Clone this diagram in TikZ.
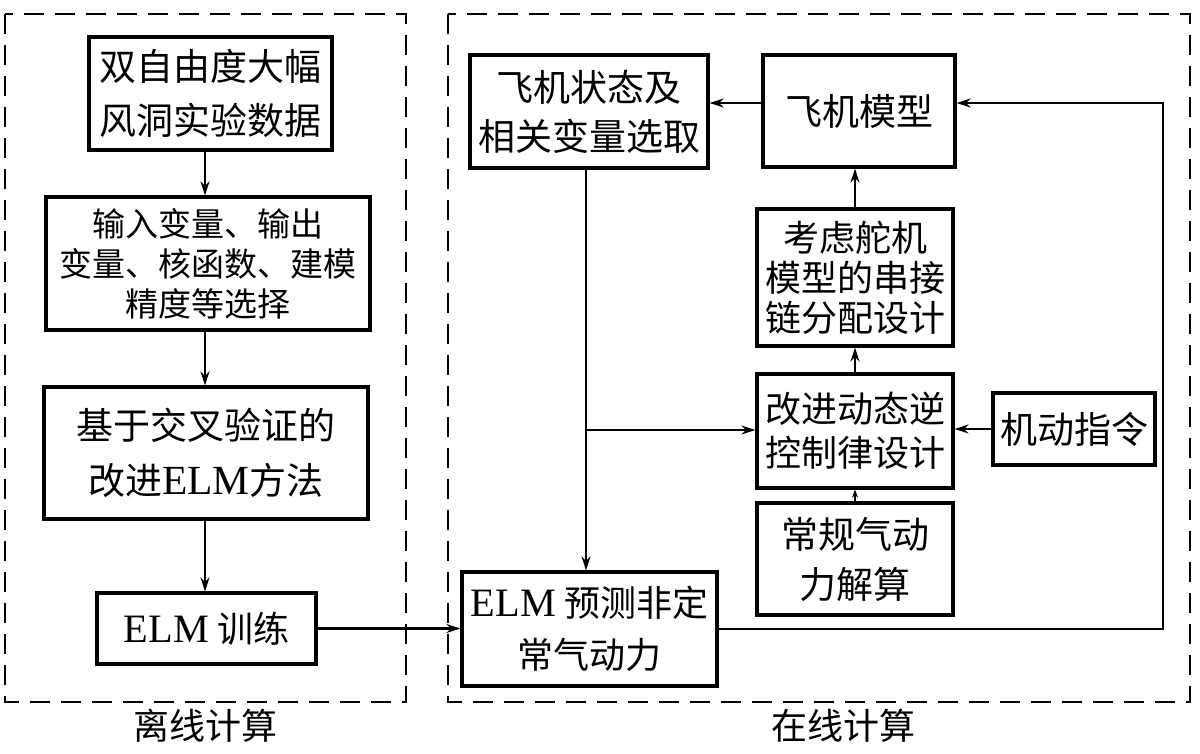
\documentclass[tikz,border=0pt]{standalone}
\usepackage{fontspec}
\setmainfont{Noto Sans CJK SC}
\newfontfamily\lat[Scale=1.12]{Liberation Serif}
\usetikzlibrary{arrows.meta}
\newcommand{\elm}{{\lat ELM}}
\tikzset{
  box/.style={draw, line width=3.2pt, inner sep=0pt, align=center, font=\fontsize{36}{48}\selectfont},
  arr/.style={line width=2.2pt, -{Stealth[length=14pt,width=9pt]}},
  frame/.style={draw, line width=2.6pt, dash pattern=on 20pt off 11pt},
  captxt/.style={font=\fontsize{36}{40}\selectfont},
}
\begin{document}
\begin{tikzpicture}[x=1pt,y=-1pt]
\useasboundingbox[fill=white] (0,0) rectangle (1200,753);
% dashed frames
\draw[frame] (5,14) rectangle (406,702);
\draw[frame] (448,14) rectangle (1190,702);
\node[captxt] (offl) at (205,726) {离线计算};
\node[captxt] (onl) at (843,726) {在线计算};
% left column
\node[box, minimum width=243pt, minimum height=113pt, font=\fontsize{37}{54}\selectfont] (d1) at (210.5,93.5) {双自由度大幅\\风洞实验数据};
\node[box, minimum width=324pt, minimum height=133pt, font=\fontsize{33}{40}\selectfont] (d2) at (208,263.5) {输入变量、输出\\变量、核函数、建模\\精度等选择};
\node[box, minimum width=324pt, minimum height=132pt, font=\fontsize{37}{55}\selectfont] (d3) at (206,453) {基于交叉验证的\\改进\elm{}方法};
\node[box, minimum width=219pt, minimum height=71pt, font=\fontsize{36}{40}\selectfont] (d4) at (206.5,628.5) {\elm{} 训练};
% right part
\node[box, minimum width=238pt, minimum height=113pt, font=\fontsize{37}{49}\selectfont] (s1) at (589,111.5) {飞机状态及\\相关变量选取};
\node[box, minimum width=192pt, minimum height=112pt, font=\fontsize{37}{40}\selectfont] (m) at (859,111) {飞机模型};
\node[box, minimum width=196pt, minimum height=137pt, font=\fontsize{36}{40}\selectfont] (a) at (855,277.5) {考虑舵机\\模型的串接\\链分配设计};
\node[box, minimum width=196pt, minimum height=114pt, font=\fontsize{36}{44}\selectfont] (c) at (855,431) {改进动态逆\\控制律设计};
\node[box, minimum width=162pt, minimum height=72pt, font=\fontsize{37}{40}\selectfont] (k) at (1074,429) {机动指令};
\node[box, minimum width=196pt, minimum height=112pt, font=\fontsize{37}{50}\selectfont] (g) at (855,559) {常规气动\\力解算};
\node[box, minimum width=255pt, minimum height=114pt, font=\fontsize{36}{52}\selectfont] (p) at (589.5,629) {\elm{} 预测非定\\常气动力};
% helper coordinates
\coordinate (lx) at (205,0);
\coordinate (ry) at (0,103);
\coordinate (fb) at (1163,0);
\coordinate (vx) at (586,0);
\coordinate (br) at (586,430);
% left arrows
\draw[arr] (lx |- d1.south) -- (lx |- d2.north);
\draw[arr] (lx |- d2.south) -- (lx |- d3.north);
\draw[arr] (lx |- d3.south) -- (lx |- d4.north);
\draw[arr] (d4.east) -- (d4.east -| p.west);
% right arrows
\draw[arr] (ry -| m.west) -- (ry -| s1.east);
\draw[arr] (p.east) -- (p.east -| fb) -- (fb |- ry) -- (ry -| m.east);
\draw[arr] (vx |- s1.south) -- (vx |- p.north);
\draw[arr] (br) -- (br -| c.west);
\draw[arr] (c.north) -- (c.north |- a.south);
\draw[arr] (a.north) -- (a.north |- m.south);
\draw[arr] (k.west) -- (k.west -| c.east);
\draw[line width=2.2pt, -{Stealth[length=8pt,width=6pt]}] (g.north) -- (g.north |- c.south);
\end{tikzpicture}
\end{document}
